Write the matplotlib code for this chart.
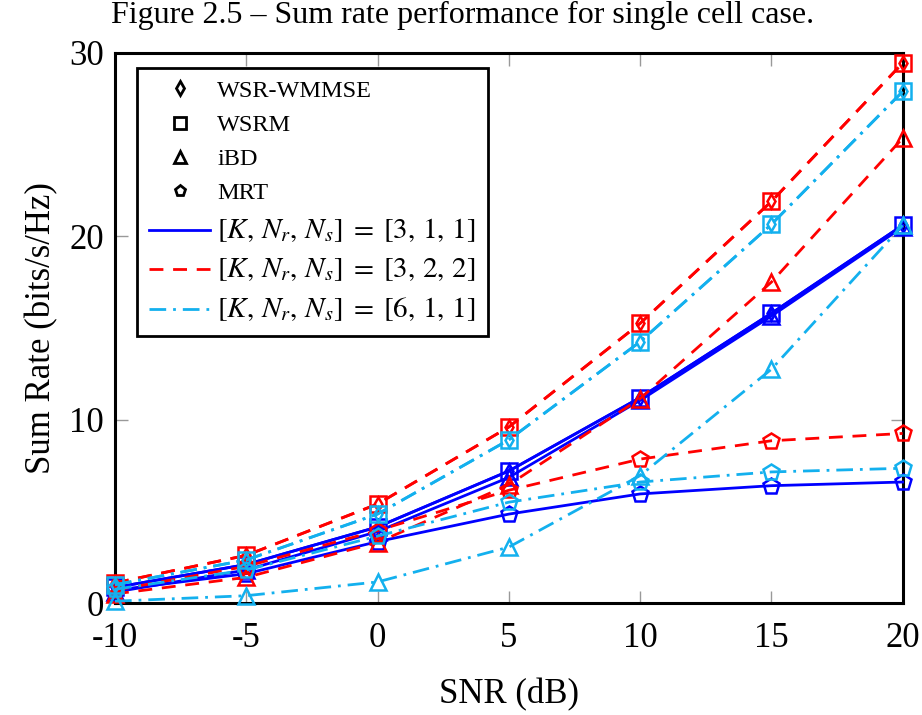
import matplotlib
matplotlib.use("Agg")
import matplotlib.pyplot as plt
from matplotlib.lines import Line2D

plt.rcParams['font.family'] = ['Liberation Serif', 'DejaVu Serif']
plt.rcParams['mathtext.fontset'] = 'stix'

snr = [-10, -5, 0, 5, 10, 15, 20]

# sum rate per configuration and scheme (bits/s/Hz)
wmmse_311 = [0.85, 2.1, 4.15, 7.2, 11.2, 15.8, 20.6]
wsrm_311 = [0.85, 2.1, 4.15, 7.2, 11.2, 15.8, 20.6]
ibd_311 = [0.6, 1.8, 3.9, 6.85, 11.05, 15.65, 20.5]
mrt_311 = [0.7, 1.6, 3.35, 4.85, 5.95, 6.4, 6.6]

wmmse_322 = [1.1, 2.6, 5.4, 9.6, 15.25, 21.9, 29.45]
wsrm_322 = [1.1, 2.6, 5.4, 9.6, 15.25, 21.9, 29.45]
ibd_322 = [0.5, 1.4, 3.3, 6.45, 11.15, 17.5, 25.35]
mrt_322 = [0.7, 2.0, 3.95, 6.15, 7.85, 8.85, 9.25]

wmmse_611 = [1.0, 2.35, 4.85, 8.9, 14.25, 20.65, 27.9]
wsrm_611 = [1.0, 2.35, 4.85, 8.9, 14.25, 20.65, 27.9]
ibd_611 = [0.1, 0.4, 1.15, 3.05, 6.95, 12.75, 20.6]
mrt_611 = [0.75, 1.8, 3.65, 5.5, 6.6, 7.15, 7.35]

configs = [r"$[K,\, N_r,\, N_s] \;=\; [3,\, 1,\, 1]$",
           r"$[K,\, N_r,\, N_s] \;=\; [3,\, 2,\, 2]$",
           r"$[K,\, N_r,\, N_s] \;=\; [6,\, 1,\, 1]$"]
schemes = ["WSR-WMMSE", "WSRM", "iBD", "MRT"]

colors = ["#0000FF", "#FF0000", "#13B0EE"]
styles = ["-", (0, (5, 3.5)), (0, (6, 2.5, 1, 2.5))]
markers = ["d", "s", "^", "p"]
msizes = [7, 12, 12, 12]

data = [[wmmse_311, wsrm_311, ibd_311, mrt_311],
        [wmmse_322, wsrm_322, ibd_322, mrt_322],
        [wmmse_611, wsrm_611, ibd_611, mrt_611]]

fig = plt.figure(figsize=(9.22, 7.15), dpi=100)
ax = fig.add_axes([0.1247, 0.1566, 0.8543, 0.7693])

for c in range(3):
    for s in range(4):
        ax.plot(snr, data[c][s], color=colors[c], linestyle=styles[c], linewidth=2.0,
                marker=markers[s], markersize=msizes[s], markerfacecolor='none',
                markeredgewidth=1.8, clip_on=False, zorder=3)

ax.set_xlim(-10, 20)
ax.set_ylim(0, 30)
ax.set_xticks(snr)
ax.set_xticklabels(["-10", "-5", "0", "5", "10", "15", "20"])
ax.set_yticks([0, 10, 20, 30])
ax.tick_params(direction='in', length=9, width=1.0, color='#999999', labelsize=25,
               top=True, right=True)
ax.tick_params(axis='x', pad=14)
ax.tick_params(axis='y', pad=8)
for sp in ax.spines.values():
    sp.set_linewidth(2.2)
ax.set_xlabel("SNR (dB)", fontsize=25, labelpad=16)
ax.set_ylabel("Sum Rate (bits/s/Hz)", fontsize=25, labelpad=8)

fig.suptitle("Figure 2.5 \u2013 Sum rate performance for single cell case.",
             fontsize=23, x=0.502, y=0.998)

handles = []
for s in range(4):
    handles.append(Line2D([], [], linestyle='none', marker=markers[s], color='black',
                          markersize=8 if s != 0 else 7, markerfacecolor='none',
                          markeredgewidth=2.0))
for c in range(3):
    handles.append(Line2D([], [], color=colors[c], linestyle=styles[c], linewidth=2.0))
leg = ax.legend(handles, schemes + configs, loc='upper left', fontsize=17.5,
                bbox_to_anchor=(0.028, 0.973), borderaxespad=0, fancybox=False,
                framealpha=1, edgecolor='black', handlelength=2.5, labelspacing=0.5,
                borderpad=0.5, handletextpad=0.3)
leg.get_frame().set_linewidth(2.0)
# the bracket labels are set a bit larger than the plain names
for t in leg.get_texts()[4:]:
    t.set_fontsize(21)

fig.savefig("out.png", dpi=100)
